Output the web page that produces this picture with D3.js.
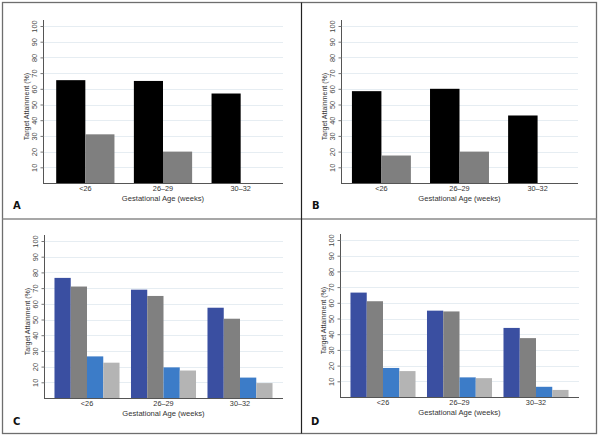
<!DOCTYPE html>
<html><head><meta charset="utf-8">
<script src="https://cdn.jsdelivr.net/npm/d3@7"></script>
<style>html,body{margin:0;padding:0;background:#fff}svg{display:block}</style>
</head><body>
<script>
const categories = ["<26", "26–29", "30–32"];
const yTicks = [10, 20, 30, 40, 50, 60, 70, 80, 90, 100];

const aBlack = [65.5, 65, 57];
const aGray  = [31, 20, 0];
const bBlack = [58.5, 60, 43];
const bGray  = [17.5, 20, 0];
const cBlue      = [76.5, 69, 57.5];
const cGray      = [71, 65, 50.5];
const cLightBlue = [26.5, 19.5, 13];
const cLightGray = [22.5, 17.5, 9.5];
const dBlue      = [66.5, 55, 44];
const dGray      = [61, 54.5, 37.5];
const dLightBlue = [18.5, 12.5, 6.5];
const dLightGray = [16.5, 12, 4.5];

const panelLetters = ["A", "B", "C", "D"];
const yTitle = "Target Attainment (%)";
const xTitle = "Gestational Age (weeks)";

const W = 603, H = 438;
const svg = d3.select("body").append("svg").attr("width", W).attr("height", H);
const font = "'Liberation Sans', Arial, Helvetica, sans-serif";

const panels = [
  {letter: panelLetters[0], series: [aBlack, aGray], colors: ["#000000", "#7f7f7f"],
   x0: 43, x1: 283, y0: 183, y100: 26, pi: 0.25, po: 0.17, lx: 13, ly: 209},
  {letter: panelLetters[1], series: [bBlack, bGray], colors: ["#000000", "#7f7f7f"],
   x0: 341, x1: 578, y0: 183, y100: 26, pi: 0.245, po: 0.14, lx: 312, ly: 209},
  {letter: panelLetters[2], series: [cBlue, cGray, cLightBlue, cLightGray], colors: ["#3a4fa1", "#808080", "#3c7cc8", "#b4b4b4"],
   x0: 44, x1: 283, y0: 398, y100: 241, pi: 0.15, po: 0.137, lx: 13, ly: 425},
  {letter: panelLetters[3], series: [dBlue, dGray, dLightBlue, dLightGray], colors: ["#3a4fa1", "#808080", "#3c7cc8", "#b4b4b4"],
   x0: 340, x1: 579, y0: 397, y100: 240, pi: 0.15, po: 0.137, lx: 311, ly: 425}
];

panels.forEach(p => {
  const g = svg.append("g");
  const y = d3.scaleLinear().domain([0, 100]).range([p.y0, p.y100]);
  const x = d3.scaleBand().domain(categories).range([p.x0, p.x1]).paddingInner(p.pi).paddingOuter(p.po);
  const xs = d3.scaleBand().domain(d3.range(p.series.length)).range([0, x.bandwidth()]).padding(0);

  // gridlines
  g.append("g").selectAll("line").data(yTicks).join("line")
    .attr("x1", p.x0).attr("x2", p.x1)
    .attr("y1", d => Math.round(y(d)) + 0.5).attr("y2", d => Math.round(y(d)) + 0.5)
    .attr("stroke", "#e6edf2").attr("stroke-width", 1);

  // bars
  p.series.forEach((vals, si) => {
    g.append("g").selectAll("rect").data(vals).join("rect")
      .attr("x", (d, i) => x(categories[i]) + xs(si))
      .attr("width", xs.bandwidth())
      .attr("y", d => y(d))
      .attr("height", d => y(0) - y(d))
      .attr("fill", p.colors[si]);
  });

  // y axis
  const ya = d3.axisLeft(y).tickValues(yTicks).tickSize(3).tickPadding(2);
  const yg = g.append("g").attr("transform", `translate(${p.x0 + 0.5},0)`).call(ya);
  yg.select(".domain").attr("stroke", "#555").attr("d", `M0,${p.y0}V${p.y100 - 6}`);
  yg.selectAll(".tick line").attr("stroke", "#777");
  yg.selectAll(".tick text")
    .attr("font-family", font).attr("font-size", 7.4).attr("fill", "#444")
    .attr("text-anchor", "middle").attr("x", null).attr("dy", null)
    .attr("transform", "translate(-6.5,0) rotate(-90)");

  // x axis
  const xa = d3.axisBottom(x).tickSize(0).tickPadding(2.3);
  const xg = g.append("g").attr("transform", `translate(0,${p.y0 + 0.5})`).call(xa);
  xg.select(".domain").attr("stroke", "#555").attr("d", `M${p.x0},0H${p.x1}`);
  xg.selectAll(".tick text").attr("font-family", font).attr("font-size", 7.3).attr("fill", "#333");

  // titles
  g.append("text").attr("font-family", font).attr("font-size", 7)
    .attr("fill", "#333").attr("text-anchor", "middle")
    .attr("transform", `translate(${p.x0 - 14},${(p.y0 + p.y100) / 2 + 2}) rotate(-90)`)
    .text(yTitle);
  g.append("text").attr("font-family", font).attr("font-size", 7.6)
    .attr("fill", "#333").attr("text-anchor", "middle")
    .attr("x", (p.x0 + p.x1) / 2).attr("y", p.y0 + 17.5)
    .text(xTitle);

  // letter
  g.append("text").attr("font-family", "'DejaVu Sans', sans-serif").attr("font-weight", "bold")
    .attr("font-size", 10).attr("fill", "#111")
    .attr("x", p.lx).attr("y", p.ly).text(p.letter);
});

// frame
svg.append("rect").attr("x", 2.5).attr("y", 2.5).attr("width", 594).attr("height", 431)
  .attr("fill", "none").attr("stroke", "#6e6e6e").attr("stroke-width", 1.3);
svg.append("line").attr("x1", 2.5).attr("x2", 596.5).attr("y1", 219).attr("y2", 219)
  .attr("stroke", "#8a8a8a").attr("stroke-width", 1.3);
svg.append("line").attr("x1", 301.5).attr("x2", 301.5).attr("y1", 2.5).attr("y2", 433.5)
  .attr("stroke", "#222").attr("stroke-width", 1.2);
</script>
</body></html>
